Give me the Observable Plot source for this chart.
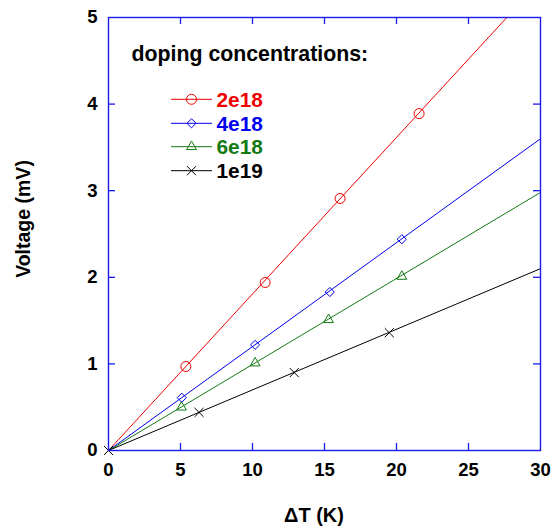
<!DOCTYPE html>
<html>
<head>
<meta charset="utf-8">
<script src="https://cdn.jsdelivr.net/npm/d3@7"></script>
<script src="https://cdn.jsdelivr.net/npm/@observablehq/plot@0.6"></script>
<style>
  body { margin: 0; background: #fff; }
  #chart svg { display: block; }
</style>
</head>
<body>
<div id="chart"></div>
<script>
// ---- data ----
const seriesNames = ["2e18", "4e18", "6e18", "1e19"];
const seriesColors = ["#ee0000", "#0000ee", "#137a13", "#000000"];
const seriesSymbols = ["circle", "diamond2", "triangle2", "times"];

const dT_2e18 = [5.37, 10.88, 16.08, 21.57];
const V_2e18  = [0.97, 1.94, 2.91, 3.89];
const dT_4e18 = [5.09, 10.18, 15.37, 20.37];
const V_4e18  = [0.61, 1.22, 1.83, 2.44];
const dT_6e18 = [5.07, 10.18, 15.28, 20.37];
const V_6e18  = [0.50, 1.01, 1.51, 2.01];
const dT_1e19 = [0, 6.29, 12.9, 19.5];
const V_1e19  = [0, 0.44, 0.90, 1.36];

// fitted lines (start at origin, end points)
const fitStartX = [0, 0, 0, 0];
const fitStartV = [0, 0, 0, 0];
const fitEndX = [27.66, 30, 30, 30];
const fitEndV = [5, 3.6, 2.98, 2.1];

const xTicks = [0, 5, 10, 15, 20, 25, 30];
const yTicks = [0, 1, 2, 3, 4, 5];
const xTicksInner = [5, 10, 15, 20, 25];
const yTicksInner = [1, 2, 3, 4];

const xLabel = "ΔT (K)";
const yLabel = "Voltage (mV)";
const legendTitle = "doping concentrations:";

// ---- build tables ----
const dTs = [dT_2e18, dT_4e18, dT_6e18, dT_1e19];
const Vs = [V_2e18, V_4e18, V_6e18, V_1e19];
const points = [];
dTs.forEach((xs, i) => xs.forEach((x, j) => points.push({s: seriesNames[i], x, y: Vs[i][j]})));
const fits = seriesNames.map((s, i) => ({s, x1: fitStartX[i], y1: fitStartV[i], x2: fitEndX[i], y2: fitEndV[i]}));

const W = 552, H = 529;
const mL = 108, mR = 12, mT = 17, mB = 79;
const innerW = W - mL - mR, innerH = H - mT - mB;
const frameColor = "#1a1aee";
const tickLen = 7;
const font = "'Liberation Sans', Arial, Helvetica, sans-serif";
const colorOf = Object.fromEntries(seriesNames.map((s, i) => [s, seriesColors[i]]));
const symOf = Object.fromEntries(seriesNames.map((s, i) => [s, seriesSymbols[i]]));
const rOf = {circle: 5, diamond2: 4.1, triangle2: 4.7, times: 4.2};

const dotMarks = seriesNames.map(s =>
  Plot.dot(points.filter(d => d.s === s), {
    x: "x", y: "y", symbol: () => symOf[s], r: rOf[symOf[s]],
    stroke: colorOf[s], fill: "none", strokeWidth: 1
  })
);

const chart = Plot.plot({
  width: W, height: H,
  marginLeft: mL, marginRight: mR, marginTop: mT, marginBottom: mB,
  x: {domain: [0, 30], label: null},
  y: {domain: [0, 5], label: null},
  symbol: {type: "identity"},
  style: {fontFamily: font, fontWeight: "bold", fontSize: "18px", background: "#fff", color: "#000"},
  marks: [
    Plot.link(fits, {x1: "x1", y1: "y1", x2: "x2", y2: "y2", stroke: d => colorOf[d.s], strokeWidth: 1}),
    ...dotMarks,
    Plot.ruleX(xTicksInner, {insetTop: innerH - tickLen, stroke: frameColor, strokeWidth: 1.3}),
    Plot.ruleX(xTicksInner, {insetBottom: innerH - tickLen, stroke: frameColor, strokeWidth: 1.3}),
    Plot.ruleY(yTicksInner, {insetRight: innerW - tickLen, stroke: frameColor, strokeWidth: 1.3}),
    Plot.ruleY(yTicksInner, {insetLeft: innerW - tickLen, stroke: frameColor, strokeWidth: 1.3}),
    Plot.frame({stroke: frameColor, strokeWidth: 1.4}),
    Plot.axisX(xTicks, {tickSize: 0, tickPadding: 12, label: null, fontSize: 18.5, fontWeight: "bold", tickFormat: d => String(d)}),
    Plot.axisY(yTicks, {tickSize: 0, tickPadding: 11, label: null, fontSize: 18.5, fontWeight: "bold", tickFormat: d => String(d)})
  ]
});

document.getElementById("chart").appendChild(chart);

// ---- titles and legend ----
const svg = d3.select(chart);
svg.append("text")
  .attr("x", 314).attr("y", 522)
  .attr("text-anchor", "middle")
  .attr("font-family", font).attr("font-weight", "bold").attr("font-size", 20)
  .attr("fill", "#000")
  .text(xLabel);
svg.append("text")
  .attr("transform", "translate(30,219) rotate(-90)")
  .attr("text-anchor", "middle")
  .attr("font-family", font).attr("font-weight", "bold").attr("font-size", 19.5)
  .attr("fill", "#000")
  .text(yLabel);

const lg = svg.append("g").attr("text-anchor", "start");
lg.append("text")
  .attr("x", 131.5).attr("y", 61)
  .attr("text-anchor", "start")
  .attr("font-family", font).attr("font-weight", "bold").attr("font-size", 21.3)
  .attr("fill", "#000")
  .text(legendTitle);

const symType = {circle: d3.symbolCircle, diamond2: d3.symbolDiamond2, triangle2: d3.symbolTriangle2, times: d3.symbolTimes};
const rowY = [99.3, 123.3, 146.7, 170.7];
seriesNames.forEach((s, i) => {
  const y = rowY[i];
  lg.append("line").attr("x1", 171).attr("x2", 212).attr("y1", y).attr("y2", y)
    .attr("stroke", seriesColors[i]).attr("stroke-width", 1);
  const r = rOf[seriesSymbols[i]];
  lg.append("path")
    .attr("d", d3.symbol().type(symType[seriesSymbols[i]]).size(Math.PI * r * r)())
    .attr("transform", `translate(191.5,${y})`)
    .attr("fill", "none").attr("stroke", seriesColors[i]).attr("stroke-width", 1);
  lg.append("text")
    .attr("x", 216.5).attr("y", y + 7.3)
    .attr("text-anchor", "start")
    .attr("font-family", font).attr("font-weight", "bold").attr("font-size", 20.8)
    .attr("fill", seriesColors[i])
    .text(s);
});
</script>
</body>
</html>
